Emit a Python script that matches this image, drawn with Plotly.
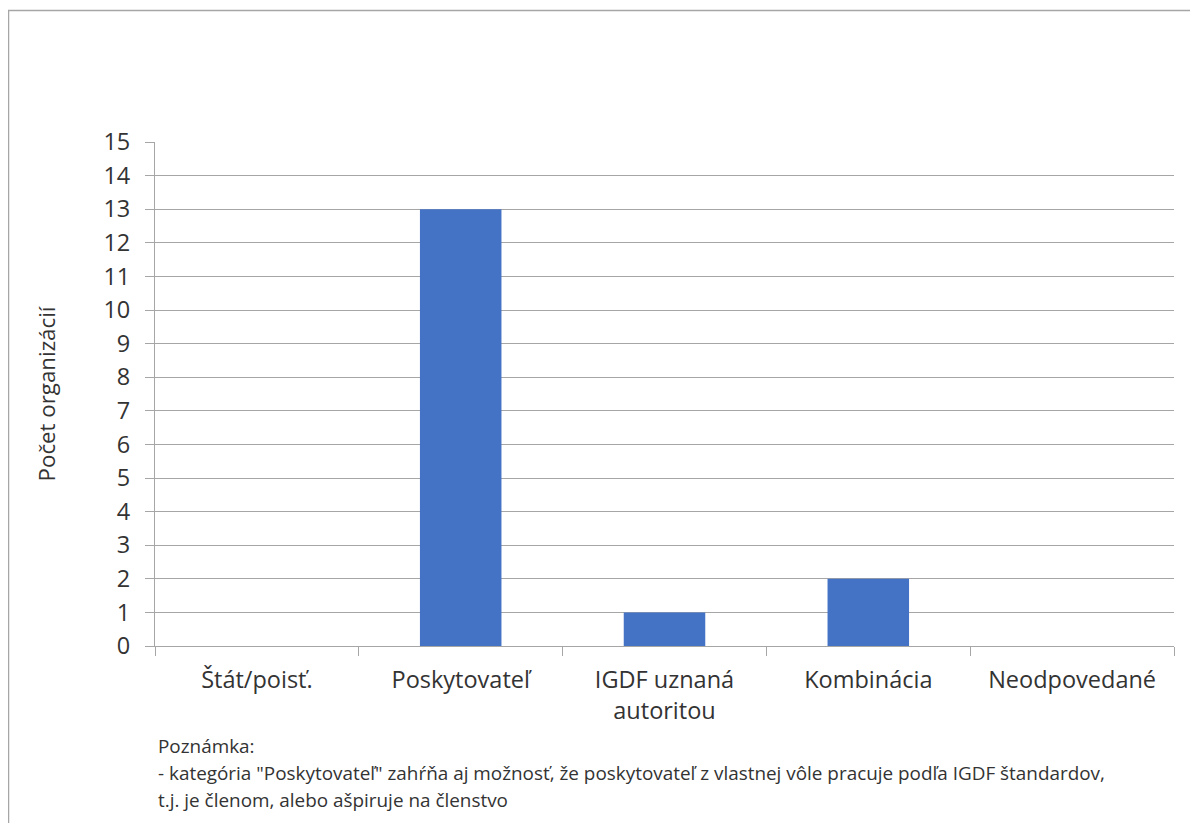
import plotly.graph_objects as go

categories = ["Štát/poisť.", "Poskytovateľ", "IGDF uznaná autoritou", "Kombinácia", "Neodpovedané"]
tick_labels = ["Štát/poisť.", "Poskytovateľ", "IGDF uznaná<br>autoritou", "Kombinácia", "Neodpovedané"]
values = [0, 13, 1, 2, 0]
y_ticks = list(range(0, 16))
y_title = "Počet organizácií"
note_lines = [
    "Poznámka:",
    "- kategória \"Poskytovateľ\" zahŕňa aj možnosť, že poskytovateľ z vlastnej vôle pracuje podľa IGDF štandardov,",
    "t.j. je členom, alebo ašpiruje na členstvo",
]

OFF = 8  # page body margin
W, H = 1190, 815
PL, PR, PT, PB = 155, 1174, 142, 646  # plot area in page pixels
L, T = PL - OFF, PT - OFF
R = OFF + W - PR
B = OFF + H - PB
pw, ph = PR - PL, PB - PT

def px_x(px):
    return (px - PL) / pw

def px_y(py):
    return (PB - py) / ph

txt = "#333333"
axis_font = dict(family="Open Sans", size=23.5, color=txt)

fig = go.Figure(
    go.Bar(
        x=categories,
        y=values,
        marker=dict(color="#4472C4", line=dict(width=0)),
        width=0.4,
    )
)

fig.update_layout(
    width=W,
    height=H,
    margin=dict(l=L, r=R, t=T, b=B),
    paper_bgcolor="white",
    plot_bgcolor="white",
    showlegend=False,
    font=axis_font,
)

fig.update_xaxes(
    type="category",
    tickmode="array",
    tickvals=categories,
    ticktext=tick_labels,
    tickson="boundaries",
    ticks="outside",
    ticklen=9,
    tickcolor="#a6a6a6",
    showline=True,
    linecolor="#a6a6a6",
    linewidth=1,
    showgrid=False,
    ticklabelstandoff=13,
    tickfont=axis_font,
)

fig.update_yaxes(
    range=[0, 15],
    tickmode="array",
    tickvals=y_ticks,
    ticks="outside",
    ticklen=9,
    tickcolor="#a6a6a6",
    showline=True,
    linecolor="#a6a6a6",
    linewidth=1,
    showgrid=True,
    gridcolor="#a6a6a6",
    gridwidth=1,
    zeroline=False,
    tickfont=axis_font,
    ticklabelstandoff=10,
    title=dict(text=y_title, font=dict(family="Open Sans", size=22.3, color=txt), standoff=41),
)

# chart border
fig.add_shape(
    type="rect",
    xref="paper", yref="paper",
    x0=px_x(8.5), x1=px_x(1215), y0=px_y(840), y1=px_y(10.5),
    line=dict(color="#a6a6a6", width=1.5),
    fillcolor="rgba(0,0,0,0)",
    layer="below",
)

note_y = [746, 773, 800]
for line, yc in zip(note_lines, note_y):
    fig.add_annotation(
        xref="paper", yref="paper",
        x=px_x(156), y=px_y(yc),
        xanchor="left", yanchor="middle",
        align="left",
        showarrow=False,
        text=line,
        font=dict(family="Open Sans", size=18.9, color=txt),
    )

fig.write_html("out.html")
